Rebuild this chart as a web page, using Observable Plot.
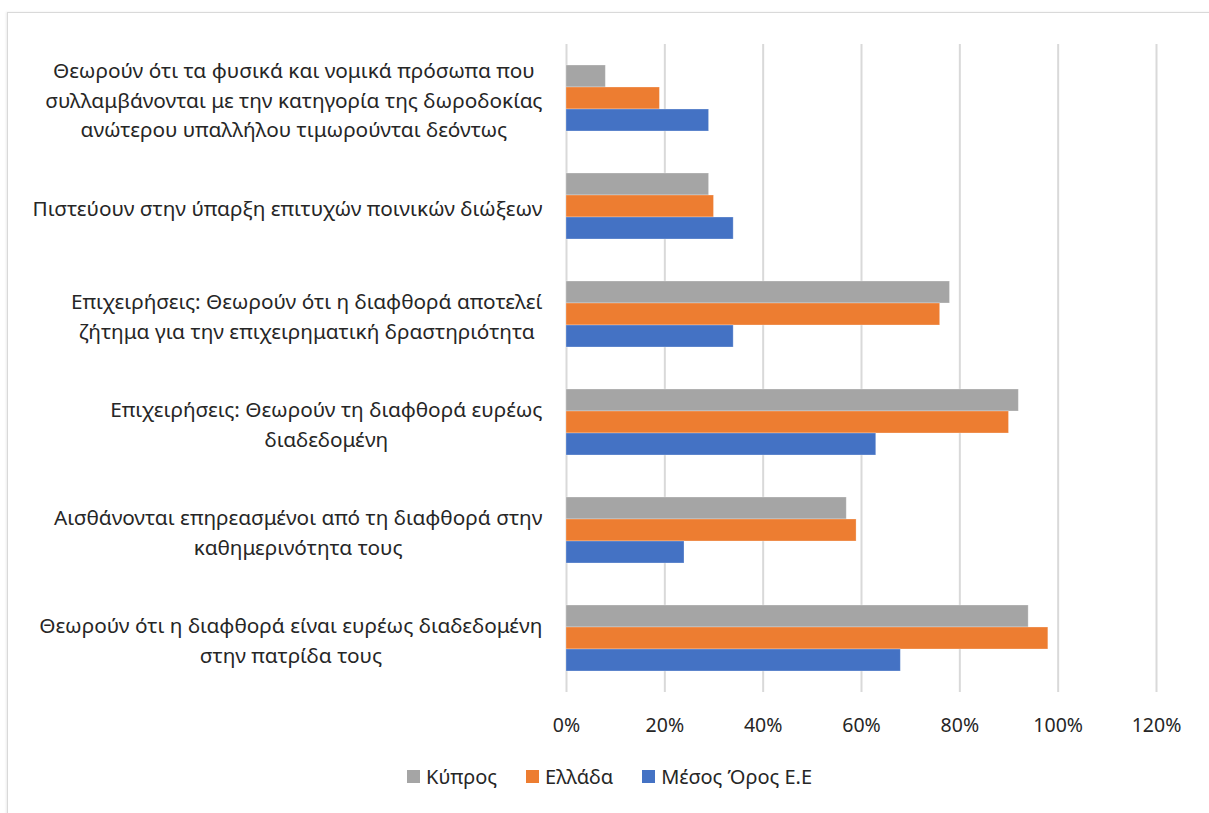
<!DOCTYPE html>
<html>
<head>
<meta charset="utf-8">
<script src="https://cdn.jsdelivr.net/npm/d3@7"></script>
<script src="https://cdn.jsdelivr.net/npm/@observablehq/plot@0.6"></script>
<style>
  html, body { margin: 0; padding: 0; background: #fff; }
  body { width: 1209px; height: 813px; position: relative; overflow: hidden; font-family: "Noto Sans", sans-serif; }
  #frame { position: absolute; left: 7px; top: 12px; width: 1300px; height: 900px; border: 1.5px solid #d9d9d9; box-shadow: -1px 0 2px rgba(0,0,0,0.08); }
  #chart { position: absolute; left: 0; top: 0; }
  #legend { position: absolute; top: 763px; left: 407px; display: flex; align-items: center; font-size: 20px; color: #262626; white-space: nowrap; }
  #legend .item { display: flex; align-items: center; }
  #legend .sw { width: 13px; height: 13px; margin-right: 6px; }
</style>
</head>
<body>
<div id="frame"></div>
<div id="chart"></div>
<div id="legend"></div>
<script>
const categories = [
  "Θεωρούν ότι τα φυσικά και νομικά πρόσωπα που\nσυλλαμβάνονται με την κατηγορία της δωροδοκίας\nανώτερου υπαλλήλου τιμωρούνται δεόντως",
  "Πιστεύουν στην ύπαρξη επιτυχών ποινικών διώξεων",
  "Επιχειρήσεις: Θεωρούν ότι η διαφθορά αποτελεί\nζήτημα για την επιχειρηματική δραστηριότητα",
  "Επιχειρήσεις: Θεωρούν τη διαφθορά ευρέως\nδιαδεδομένη",
  "Αισθάνονται επηρεασμένοι από τη διαφθορά στην\nκαθημερινότητα τους",
  "Θεωρούν ότι η διαφθορά είναι ευρέως διαδεδομένη\nστην πατρίδα τους"
];
const seriesNames = ["Κύπρος", "Ελλάδα", "Μέσος Όρος Ε.Ε"];
const seriesColors = ["#a5a5a5", "#ed7d31", "#4472c4"];
const cyprus = [8, 29, 78, 92, 57, 94];
const greece = [19, 30, 76, 90, 59, 98];
const euAverage = [29, 34, 34, 63, 24, 68];
const xTicks = [0, 20, 40, 60, 80, 100, 120];

const seriesValues = [cyprus, greece, euAverage];
const data = [];
categories.forEach((c, i) => {
  seriesNames.forEach((s, j) => {
    data.push({category: c, series: s, value: seriesValues[j][i]});
  });
});

const chart = Plot.plot({
  width: 1209,
  height: 745,
  marginLeft: 566,
  marginRight: 53,
  marginTop: 41,
  marginBottom: 51,
  style: {fontFamily: "Noto Sans, sans-serif", background: "transparent"},
  x: {domain: [0, 120], axis: null},
  y: {domain: seriesNames, paddingInner: 0, paddingOuter: 0.923, axis: null},
  fy: {domain: categories, padding: 0, axis: null},
  color: {domain: seriesNames, range: seriesColors},
  marks: [
    Plot.gridX(xTicks, {stroke: "#d9d9d9", strokeOpacity: 1, strokeWidth: 2}),
    Plot.barX(data, {fy: "category", y: "series", x: "value", fill: "series", stroke: "#ffffff", strokeOpacity: 0.35, strokeWidth: 0.8}),
    Plot.axisX(xTicks, {anchor: "bottom", tickSize: 0, tickPadding: 26, tickFormat: d => d + "%", fontSize: 19.5, fill: "#262626", label: null}),
    Plot.axisFy({anchor: "left", tickSize: 0, tickPadding: 24, fontSize: 20.8, lineHeight: 1.42, fill: "#262626", label: null, tickFormat: d => d})
  ]
});
document.getElementById("chart").appendChild(chart);

// Excel-style label block: block right-aligned, lines centered within it
chart.querySelectorAll('g[aria-label="fy-axis tick label"] text').forEach(t => {
  const w = t.getBBox().width;
  t.setAttribute("text-anchor", "middle");
  const tr = t.getAttribute("transform") || "";
  t.setAttribute("transform", tr + ` translate(${-w / 2},0)`);
});

const legend = document.getElementById("legend");
seriesNames.forEach((s, i) => {
  const item = document.createElement("div");
  item.className = "item";
  item.style.marginRight = i < seriesNames.length - 1 ? "29px" : "0";
  const sw = document.createElement("div");
  sw.className = "sw";
  sw.style.background = seriesColors[i];
  const lab = document.createElement("span");
  lab.textContent = s;
  item.appendChild(sw);
  item.appendChild(lab);
  legend.appendChild(item);
});
</script>
</body>
</html>
